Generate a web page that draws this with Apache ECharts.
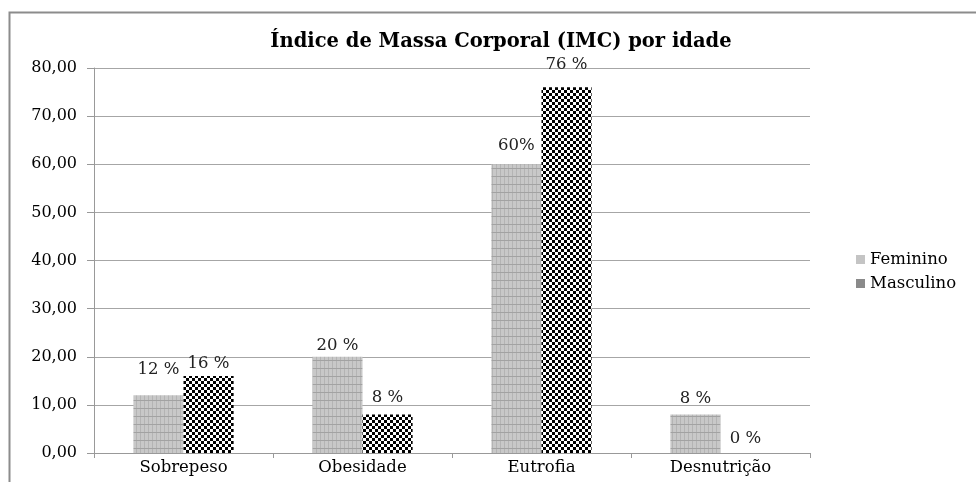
<!DOCTYPE html>
<html>
<head>
<meta charset="utf-8">
<script src="https://cdn.jsdelivr.net/npm/echarts@6/dist/echarts.min.js"></script>
<style>
  html, body { margin: 0; padding: 0; background: #fff; }
  #main { width: 976px; height: 482px; }
</style>
</head>
<body>
<div id="main"></div>
<script>
// dados
var categories = ['Sobrepeso', 'Obesidade', 'Eutrofia', 'Desnutrição'];
var feminino = [12, 20, 60, 8];
var masculino = [16, 8, 76, 0];
var femininoLabels = ['12 %', '20 %', '60%', '8 %'];
var masculinoLabels = ['16 %', '8 %', '76 %', '0 %'];

// distancia dos rotulos (estilo, nao dados)
var femDist = [17, 3, 10, 7];
var mascDist = [4, 8, 14, 6];

var fontFamily = 'DejaVu Serif';

// padrao cinza quadriculado
function gridPattern() {
    var c = document.createElement('canvas');
    c.width = 4; c.height = 8;
    var ctx = c.getContext('2d');
    ctx.fillStyle = '#c8c8c8';
    ctx.fillRect(0, 0, 4, 8);
    ctx.fillStyle = '#b4b4b4';
    ctx.fillRect(0, 0, 1, 8);
    ctx.fillStyle = '#a2a2a2';
    ctx.fillRect(0, 0, 4, 1);
    return c;
}

// padrao xadrez preto e branco
function checkPattern() {
    var c = document.createElement('canvas');
    c.width = 6; c.height = 6;
    var ctx = c.getContext('2d');
    ctx.fillStyle = '#ffffff';
    ctx.fillRect(0, 0, 6, 6);
    ctx.fillStyle = '#000000';
    ctx.fillRect(0, 0, 3, 3);
    ctx.fillRect(3, 3, 3, 3);
    return c;
}

function buildData(values, labels, dists) {
    return values.map(function (v, i) {
        return {
            value: v,
            label: { formatter: labels[i], distance: dists[i] }
        };
    });
}

var chart = echarts.init(document.getElementById('main'));

chart.setOption({
    animation: false,
    backgroundColor: '#fff',
    title: {
        text: 'Índice de Massa Corporal (IMC) por idade',
        left: 496,
        textAlign: 'center',
        top: 27,
        textStyle: { fontFamily: fontFamily, fontSize: 19.5, fontWeight: 'bold', color: '#000' }
    },
    legend: {
        orient: 'vertical',
        left: 851,
        top: 246,
        itemWidth: 9,
        itemHeight: 9,
        itemGap: 7,
        icon: 'rect',
        textStyle: { fontFamily: fontFamily, fontSize: 16.5, color: '#000', lineHeight: 17 },
        data: [
            { name: 'Feminino', itemStyle: { color: '#c4c4c4' } },
            { name: 'Masculino', itemStyle: { color: '#8a8a8a' } }
        ]
    },
    grid: { left: 94, right: 166, top: 68, bottom: 29 },
    xAxis: {
        type: 'category',
        data: categories,
        axisLine: { lineStyle: { color: '#999', width: 1 } },
        axisTick: { show: true, length: 5, lineStyle: { color: '#999' } },
        axisLabel: { fontFamily: fontFamily, fontSize: 16.5, color: '#000', margin: 6 }
    },
    yAxis: {
        type: 'value',
        min: 0,
        max: 80,
        interval: 10,
        axisLine: { show: true, lineStyle: { color: '#999', width: 1 } },
        axisTick: { show: true, length: 7, lineStyle: { color: '#999' } },
        splitLine: { lineStyle: { color: '#a6a6a6', width: 1 } },
        axisLabel: {
            fontFamily: fontFamily, fontSize: 16, color: '#000', margin: 17,
            formatter: function (v) { return v.toFixed(2).replace('.', ','); }
        }
    },
    series: [
        {
            name: 'Feminino',
            type: 'bar',
            barGap: '0%',
            barCategoryGap: '44%',
            itemStyle: { color: { image: gridPattern(), repeat: 'repeat' } },
            label: { show: true, position: 'top', fontFamily: fontFamily, fontSize: 16.5, color: '#222' },
            data: buildData(feminino, femininoLabels, femDist)
        },
        {
            name: 'Masculino',
            type: 'bar',
            itemStyle: { color: { image: checkPattern(), repeat: 'repeat' } },
            label: { show: true, position: 'top', fontFamily: fontFamily, fontSize: 16.5, color: '#222' },
            data: buildData(masculino, masculinoLabels, mascDist)
        }
    ],
    graphic: [
        {
            type: 'polyline',
            silent: true,
            shape: { points: [[9.5, 482], [9.5, 12.5], [976, 12.5]] },
            style: { stroke: '#8c8c8c', lineWidth: 2, fill: null }
        }
    ]
});
</script>
</body>
</html>
